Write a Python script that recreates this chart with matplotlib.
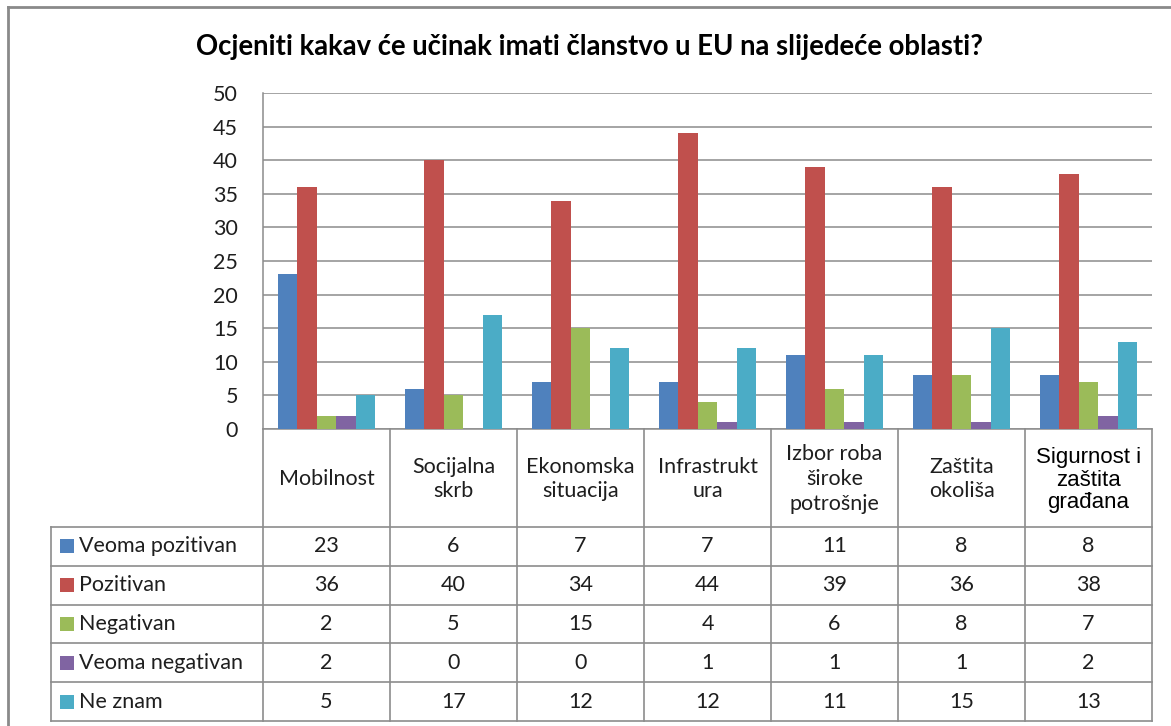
"""Ocjena ucinka clanstva u EU - stupcasti grafikon s tablicom podataka."""

import matplotlib.pyplot as plt
import numpy as np
from matplotlib.lines import Line2D
from matplotlib.patches import Rectangle

TITLE = "Ocjeniti kakav će učinak imati članstvo u EU na slijedeće oblasti?"
CATEGORIES = [
    "Mobilnost",
    "Socijalna\nskrb",
    "Ekonomska\nsituacija",
    "Infrastrukt\nura",
    "Izbor roba\nširoke\npotrošnje",
    "Zaštita\nokoliša",
    "Sigurnost i\nzaštita\ngrađana",
]
SERIES = ["Veoma pozitivan", "Pozitivan", "Negativan", "Veoma negativan", "Ne znam"]
VEOMA_POZITIVAN = [23, 6, 7, 7, 11, 8, 8]
POZITIVAN = [36, 40, 34, 44, 39, 36, 38]
NEGATIVAN = [2, 5, 15, 4, 6, 8, 7]
VEOMA_NEGATIVAN = [2, 0, 0, 1, 1, 1, 2]
NE_ZNAM = [5, 17, 12, 12, 11, 15, 13]
VALUES = [VEOMA_POZITIVAN, POZITIVAN, NEGATIVAN, VEOMA_NEGATIVAN, NE_ZNAM]
COLORS = ["#4F81BD", "#C0504D", "#9BBB59", "#8064A2", "#4BACC6"]
Y_TICKS = list(range(0, 51, 5))

W, H = 1171, 726
FONT = "Lato"
GRID = "#8c8c8c"
TXT = "#1e1e1e"

# layout in pixels
PLOT_L, PLOT_R, PLOT_T, PLOT_B = 263, 1152, 93, 429
TABLE_L = 51
HEADER_B = 527
ROW_H = (721 - HEADER_B) / len(SERIES)

fig = plt.figure(figsize=(W / 100, H / 100), dpi=100)
fig.patch.set_facecolor("white")

ax = fig.add_axes([PLOT_L / W, 1 - PLOT_B / H, (PLOT_R - PLOT_L) / W, (PLOT_B - PLOT_T) / H])
n = len(CATEGORIES)
x = np.arange(n)
bw = 1 / 6.5
for k, (name, vals) in enumerate(zip(SERIES, VALUES)):
    ax.bar(x + (k - 2) * bw, vals, width=bw, color=COLORS[k], zorder=3, linewidth=0)

ax.set_xlim(-0.5, n - 0.5)
ax.set_ylim(0, 50)
ax.set_yticks(Y_TICKS)
ax.set_yticklabels([str(t) for t in Y_TICKS], fontsize=15.5, family=FONT, color=TXT)
ax.set_xticks([])
ax.tick_params(axis="y", length=0, pad=18)
ax.yaxis.grid(True, color=GRID, linewidth=1.1, zorder=0)
for side in ("top", "right"):
    ax.spines[side].set_visible(False)
for side in ("left", "bottom"):
    ax.spines[side].set_color(GRID)
    ax.spines[side].set_linewidth(1.1)

# table overlay in pixel coordinates
tax = fig.add_axes([0, 0, 1, 1], zorder=5)
tax.set_xlim(0, W)
tax.set_ylim(H, 0)
tax.axis("off")
tax.patch.set_alpha(0)

col_w = (PLOT_R - PLOT_L) / n
line_kw = dict(color=GRID, linewidth=1.2)
for i in range(n + 1):
    xe = PLOT_L + i * col_w
    tax.add_line(Line2D([xe, xe], [PLOT_B, 721], **line_kw))
tax.add_line(Line2D([TABLE_L, TABLE_L], [HEADER_B, 721], **line_kw))
for r in range(len(SERIES) + 1):
    ye = HEADER_B + r * ROW_H
    tax.add_line(Line2D([TABLE_L, PLOT_R], [ye, ye], **line_kw))

for i, cat in enumerate(CATEGORIES):
    cx = PLOT_L + (i + 0.5) * col_w
    if i == n - 1:
        tax.text(cx, (PLOT_B + HEADER_B) / 2 + 2, cat, ha="center", va="center",
                 fontsize=16, family="Liberation Sans", color="black", linespacing=1.1)
    else:
        tax.text(cx, (PLOT_B + HEADER_B) / 2 + 1, cat, ha="center", va="center",
                 fontsize=15.5, family=FONT, color=TXT, linespacing=1.3)

for r, (name, vals) in enumerate(zip(SERIES, VALUES)):
    cy = HEADER_B + (r + 0.5) * ROW_H
    tax.add_patch(Rectangle((60, cy - 7), 14, 14, color=COLORS[r], linewidth=0))
    tax.text(79, cy, name, ha="left", va="center", fontsize=15.5, family=FONT, color=TXT)
    for i, v in enumerate(vals):
        cx = PLOT_L + (i + 0.5) * col_w
        tax.text(cx, cy, str(v), ha="center", va="center", fontsize=15.5,
                 family=FONT, color=TXT)

tax.text(590, 47, TITLE, ha="center", va="center", fontsize=19.8, family=FONT,
         fontweight="bold", color="black")

# outer chart frame (cut off at right and bottom)
tax.add_line(Line2D([8, 8], [7, H], color="#8a8a8a", linewidth=2))
tax.add_line(Line2D([8, W], [7, 7], color="#8a8a8a", linewidth=2))

fig.savefig("out.png", dpi=100)
